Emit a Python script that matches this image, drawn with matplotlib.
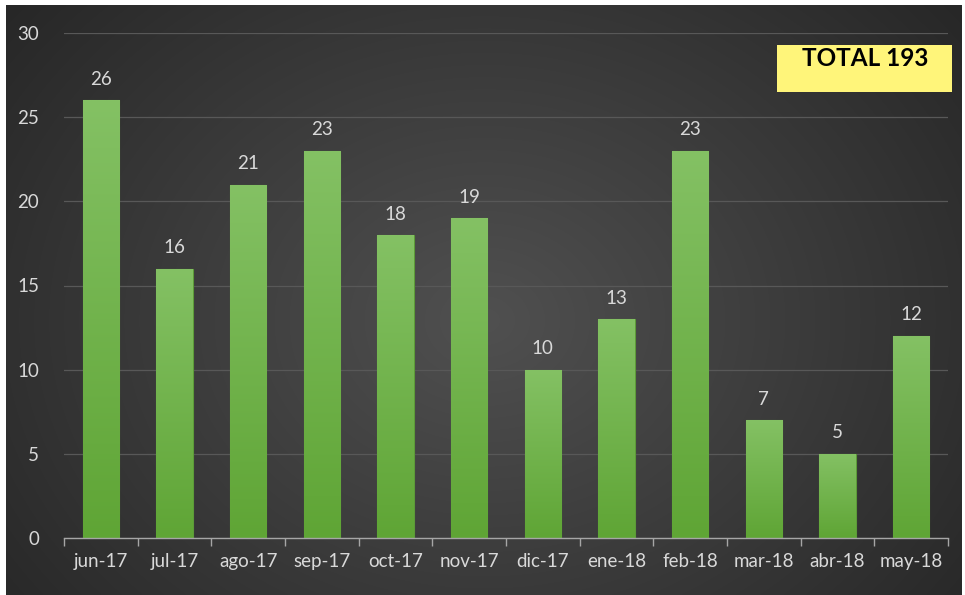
import numpy as np
import matplotlib
matplotlib.use("Agg")
import matplotlib.pyplot as plt
from matplotlib.patches import Rectangle
from matplotlib.colors import LinearSegmentedColormap

categories = ["jun-17", "jul-17", "ago-17", "sep-17", "oct-17", "nov-17",
              "dic-17", "ene-18", "feb-18", "mar-18", "abr-18", "may-18"]
values = [26, 16, 21, 23, 18, 19, 10, 13, 23, 7, 5, 12]
total_label = "TOTAL 193"
yticks = [0, 5, 10, 15, 20, 25, 30]

plt.rcParams['font.family'] = ['Lato', 'DejaVu Sans']

W, H = 965, 595
fig = plt.figure(figsize=(W / 100, H / 100), dpi=100)
fig.patch.set_facecolor("white")

# background with radial gradient
bg = fig.add_axes([6 / W, 0, (962 - 6) / W, (595 - 5) / H])
bg.set_axis_off()
yy, xx = np.mgrid[0:300, 0:500]
cx, cy = 250, 160
r = np.sqrt(((xx - cx) / 330.0) ** 2 + ((yy - cy) / 260.0) ** 2)
r = np.clip(r, 0, 1)
c_in = np.array([0x50, 0x50, 0x50]) / 255
c_out = np.array([0x26, 0x26, 0x26]) / 255
img = c_in[None, None, :] * (1 - r[..., None]) + c_out[None, None, :] * r[..., None]
bg.imshow(img, aspect="auto", extent=[0, 1, 0, 1], interpolation="bilinear")
bg.set_xlim(0, 1)
bg.set_ylim(0, 1)

ax = fig.add_axes([64 / W, 57 / H, (948 - 64) / W, (538 - 33) / H])
ax.set_facecolor("none")
x = np.arange(len(categories))
bars = ax.bar(x, values, width=0.49, color="#6db044", edgecolor="#5c9a38",
              linewidth=0.8, zorder=3)

cmap = LinearSegmentedColormap.from_list("g", ["#5fa535", "#84c164"])
grad = np.linspace(0, 1, 256).reshape(-1, 1)
for b in bars:
    bx, by = b.get_x(), b.get_y()
    bw, bh = b.get_width(), b.get_height()
    im = ax.imshow(grad, cmap=cmap, aspect="auto", origin="lower",
                   extent=[bx, bx + bw, by, by + bh], zorder=3.5)
    im.set_clip_path(b)

for xi, v in zip(x, values):
    ax.annotate(str(v), (xi, v), xytext=(0, 9), textcoords="offset points",
                ha="center", va="bottom", color="#d9d9d9", fontsize=13.5, zorder=5)

ax.set_xlim(-0.5, len(categories) - 0.5)
ax.set_ylim(0, 30)
ax.set_yticks(yticks)
ax.set_yticklabels([str(t) for t in yticks])
ax.set_xticks(x)
ax.set_xticklabels(categories)
ax.set_xticks(np.arange(-0.5, len(categories), 1), minor=True)
ax.tick_params(axis="x", which="major", length=0, pad=11, labelsize=13.5,
               labelcolor="#d9d9d9")
ax.tick_params(axis="x", which="minor", length=6, width=1, color="#a6a6a6",
               direction="out")
ax.tick_params(axis="y", length=0, pad=18, labelsize=13.5, labelcolor="#d9d9d9")
ax.yaxis.grid(True, color="#585858", linewidth=0.9, zorder=0)
ax.set_axisbelow(True)
for s in ["top", "right", "left"]:
    ax.spines[s].set_visible(False)
ax.spines["bottom"].set_color("#a6a6a6")
ax.spines["bottom"].set_linewidth(1)
ax.spines["bottom"].set_zorder(4)

# total box
box = Rectangle((777 / W, 1 - 92 / H), (952 - 777) / W, (92 - 45) / H,
                transform=fig.transFigure, facecolor="#fff57a",
                edgecolor="none", zorder=10)
fig.add_artist(box)
fig.text(865 / W, 1 - 58 / H, total_label, ha="center", va="center",
         fontsize=17.5, fontweight="bold", color="black", zorder=11)

fig.savefig("out.png", dpi=100, facecolor=fig.get_facecolor())
